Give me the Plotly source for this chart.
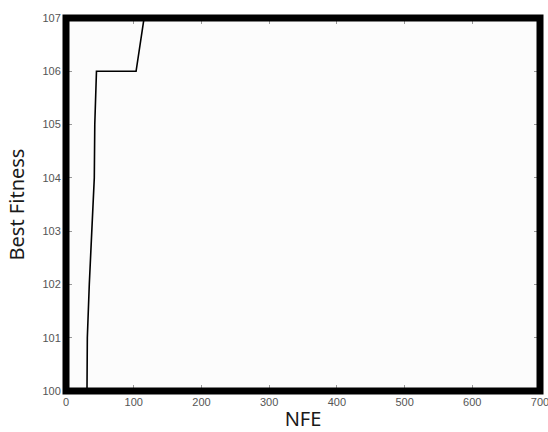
import plotly.graph_objects as go

nfe = [31, 31.5, 34.4, 37.9, 41.8, 42.5, 45, 103.5, 115.6, 116.5]
best_fitness = [100, 101, 102, 103, 104, 105, 106, 106, 107, 107.1]

x_ticks = [0, 100, 200, 300, 400, 500, 600, 700]
y_ticks = [100, 101, 102, 103, 104, 105, 106, 107]

fig = go.Figure()
fig.add_trace(go.Scatter(x=nfe, y=best_fitness, mode="lines",
                         line=dict(color="black", width=1.6), showlegend=False))

tickfont = dict(family="Liberation Sans Narrow, Liberation Sans, Arial", size=11, color="#555555")
titlefont = dict(family="Noto Sans, Liberation Sans", size=20, color="#1a1a1a")
fig.update_layout(
    width=548, height=432,
    margin=dict(l=66, r=8, t=18, b=41, autoexpand=False),
    paper_bgcolor="white", plot_bgcolor="#fcfcfc",
    xaxis=dict(range=[0, 700], tickvals=x_ticks, ticks="inside", ticklen=6, tickcolor="#999",
               showgrid=False, zeroline=False, showline=True, linecolor="black", linewidth=1,
               mirror="ticks", tickfont=tickfont, automargin=False, ticklabelstandoff=1,
               ticklabeloverflow="allow",
               title=dict(text="NFE", font=titlefont, standoff=4)),
    yaxis=dict(range=[100, 107], tickvals=y_ticks, ticks="inside", ticklen=6, tickcolor="#999",
               showgrid=False, zeroline=False, showline=True, linecolor="black", linewidth=1,
               mirror="ticks", tickfont=tickfont, automargin=False, ticklabelstandoff=2,
               ticklabeloverflow="allow",
               title=dict(text="Best Fitness", font=titlefont, standoff=12)),
    shapes=[dict(type="rect", xref="x domain", yref="y domain", x0=0, x1=1, y0=0, y1=1,
                 line=dict(color="black", width=7), fillcolor="rgba(0,0,0,0)", layer="above")],
)
fig.write_html("out.html")
